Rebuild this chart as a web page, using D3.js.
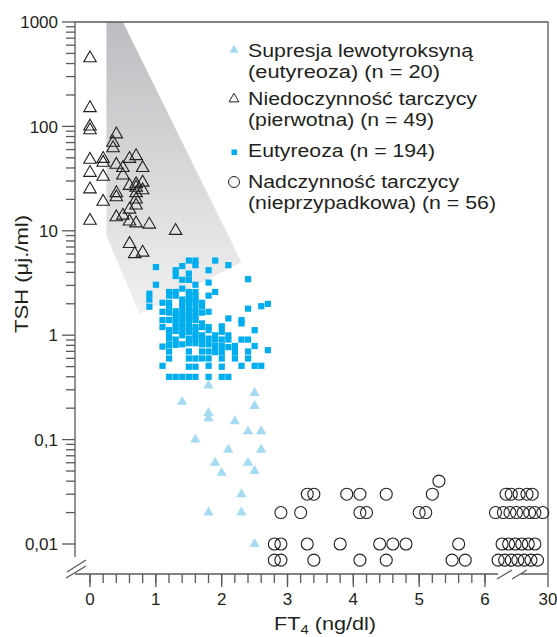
<!DOCTYPE html>
<html>
<head>
<meta charset="utf-8">
<script src="https://cdn.jsdelivr.net/npm/d3@7"></script>
<style>
  body { margin: 0; background: #fff; }
  text { font-family: "Liberation Sans", Arial, Helvetica, sans-serif; fill: #231f20; }
</style>
</head>
<body>
<svg id="chart" width="557" height="637"></svg>
<script>
// FT4 (ng/dl), TSH (uj./ml)
var suppressed = [
  [1.8,0.33],[2.5,0.28],[1.4,0.23],[2.5,0.21],[1.8,0.18],[1.8,0.16],[2.2,0.15],
  [2.4,0.12],[2.6,0.12],[1.6,0.10],[2.1,0.08],[2.6,0.08],[1.9,0.06],[2.4,0.06],
  [2.0,0.048],[2.5,0.05],[2.3,0.03],[1.8,0.02],[2.3,0.02],[2.5,0.01]
];
var hypo = [
  [0,450],[0,150],[0,100],[0,92],[0,48],[0,36],[0,25],[0,12.5],
  [0.2,49],[0.2,45],[0.2,33],[0.2,19],
  [0.4,84],[0.35,70],[0.35,62],[0.4,43],[0.4,23],[0.4,21],[0.4,13.5],
  [0.5,40],[0.5,34],[0.5,14],
  [0.6,49],[0.6,27],[0.6,16],[0.6,12.3],[0.6,7.5],
  [0.7,52],[0.7,28],[0.7,26],[0.7,23],[0.7,20],[0.7,17.5],[0.7,11.8],[0.68,6],
  [0.8,40],[0.8,29],[0.8,24.5],[0.8,6.2],
  [0.9,11.5],[1.3,10]
];
var euthyroid = [
  [1.5,5.2],[1.6,5.2],[1.9,5.2],[1.6,4.7],[2.1,4.7],[1.0,4.5],[1.4,4.6],[1.3,4.2],[1.8,4.2],
  [1.5,3.9],[1.3,3.7],[1.4,3.4],[1.5,3.4],[2.4,3.45],[1.8,3.2],[1.0,3.05],[1.6,3.05],[1.4,2.8],
  [1.2,2.6],[1.3,2.6],[1.5,2.6],[1.6,2.6],[1.9,2.6],[0.9,2.5],
  [1.2,2.4],[1.3,2.4],[1.5,2.4],[1.6,2.4],[1.8,2.4],
  [0.9,2.2],[1.4,2.2],[1.5,2.2],[1.6,2.2],
  [1.1,2.05],[1.2,2.05],[1.4,2.05],[1.5,2.05],[1.6,2.05],[1.7,2.05],[2.7,2.0],[2.6,1.9],
  [0.9,1.88],[1.2,1.88],[1.4,1.88],[1.5,1.88],[1.7,1.9],[1.6,1.8],[2.4,1.8],
  [1.1,1.68],[1.2,1.65],[1.3,1.7],[1.4,1.68],[1.5,1.68],[1.6,1.65],[1.7,1.65],[1.8,1.68],
  [1.3,1.55],[1.4,1.55],[1.5,1.5],[1.6,1.5],
  [1.3,1.45],[1.4,1.45],[1.5,1.45],[1.6,1.4],[2.1,1.45],[2.3,1.4],[1.1,1.4],[1.2,1.4],
  [1.3,1.3],[1.4,1.3],[1.5,1.3],[1.7,1.3],[2.3,1.3],[1.7,1.2],
  [1.1,1.2],[1.3,1.2],[1.4,1.2],[1.5,1.2],[1.6,1.2],[1.8,1.2],[2.0,1.22],
  [1.2,1.12],[1.3,1.1],[1.4,1.08],[1.5,1.08],[1.6,1.1],[1.8,1.12],[2.0,1.08],[2.5,1.12],
  [1.2,1.0],[1.4,1.0],[1.6,1.0],[1.7,1.0],[1.9,1.0],[2.1,1.0],
  [1.2,0.93],[1.3,0.91],[1.5,0.93],[1.6,0.93],[1.7,0.93],[1.8,0.93],[1.9,0.91],[2.0,0.91],
  [2.1,0.91],[2.3,0.91],[2.4,0.91],
  [1.1,0.78],[1.2,0.81],[1.3,0.81],[1.4,0.82],[1.5,0.84],[1.6,0.84],[1.7,0.82],[1.8,0.82],
  [1.9,0.79],[2.0,0.79],[2.1,0.77],[2.2,0.79],[2.5,0.79],
  [1.2,0.7],[1.5,0.7],[1.7,0.7],[1.8,0.7],[1.9,0.69],[2.0,0.69],[2.2,0.69],[2.4,0.7],[2.7,0.72],
  [1.2,0.6],[1.5,0.6],[1.6,0.6],[1.7,0.6],[1.8,0.6],[2.0,0.6],[2.2,0.6],[2.4,0.6],
  [1.1,0.51],[1.5,0.5],[1.6,0.5],[1.8,0.51],[2.0,0.5],[2.3,0.51],[2.5,0.51],[2.6,0.51],
  [1.2,0.4],[1.3,0.4],[1.4,0.4],[1.5,0.4],[1.6,0.4],[1.8,0.4],[2.0,0.4],[2.1,0.4]
];
var hyper = [
  [3.3,0.03],[3.4,0.03],[3.9,0.03],[4.1,0.03],[4.5,0.03],[5.2,0.03],[5.3,0.04],
  [2.9,0.02],[3.2,0.02],[4.1,0.02],[4.2,0.02],[5.0,0.02],[5.1,0.02],
  [2.8,0.01],[2.9,0.01],[3.3,0.01],[3.8,0.01],[4.4,0.01],[4.6,0.01],[4.8,0.01],[5.6,0.01],
  [2.8,0.007],[2.9,0.007],[3.4,0.007],[4.1,0.007],[4.5,0.007],[5.5,0.007],[5.7,0.007],
  [14,0.03],[16,0.03],[19,0.03],[22,0.03],[24,0.03],
  [10,0.02],[13,0.02],[15.5,0.02],[18,0.02],[20.5,0.02],[23,0.02],[25,0.02],[28,0.02],
  [12.5,0.01],[15,0.01],[17.5,0.01],[20,0.01],[22.5,0.01],[25,0.01],
  [11,0.007],[13.5,0.007],[16,0.007],[18.5,0.007],[21,0.007],[23.5,0.007],[26,0.007]
];
// shaded band behind the hypothyroid group
var shadeBand = [[0.25,1000],[0.5,1000],[2.3,5],[0.75,1.6],[0.25,9]];

var yMajor = [1000,100,10,1,0.1,0.01]
  , yLabels = ["1000","100","10","1","0,1","0,01"]
  , xMajor = [0,1,2,3,4,5,6,30]
  , xLabels = ["0","1","2","3","4","5","6","30"];

var legendLabels = [
  ["Supresja lewotyroksyną","(eutyreoza) (n = 20)"],
  ["Niedoczynność tarczycy","(pierwotna) (n = 49)"],
  ["Eutyreoza (n = 194)"],
  ["Nadczynność tarczycy","(nieprzypadkowa) (n = 56)"]
];

var plotL = 75, plotR = 548, plotT = 22, axisY = 574
  , lightBlue = "#a5daf3", blue = "#00aeef", ink = "#231f20", axisColor = "#58595b";

var x = d3.scaleLinear().domain([0,6,30]).range([90,485,548]);
var y = d3.scaleLog().domain([0.01,1000]).range([544,plotT]);

var svg = d3.select("#chart");

var grad = svg.append("defs").append("linearGradient")
  .attr("id","band-grad")
  .attr("gradientUnits","userSpaceOnUse")
  .attr("x1",0).attr("y1",plotT).attr("x2",0).attr("y2",y(1.6));
grad.append("stop").attr("offset","0%").attr("stop-color","#bcbdc0");
grad.append("stop").attr("offset","100%").attr("stop-color","#f1f1f2");

svg.append("path")
  .datum(shadeBand)
  .attr("d", d3.line().x(function(d){ return x(d[0]); }).y(function(d){ return y(d[1]); }).curve(d3.curveLinearClosed))
  .attr("fill","url(#band-grad)");

// frame and axes
var frame = svg.append("g").attr("stroke",axisColor).attr("stroke-width",1.3).attr("fill","none");
frame.append("path").attr("d","M"+plotL+","+(axisY-17)+"V"+plotT+"H"+plotR+"V"+axisY);
frame.append("path").attr("d","M"+plotL+","+axisY+"H498M521,"+axisY+"H"+plotR);
frame.append("path").attr("d","M66,578L86,566M67,572L86,560");
frame.append("path").attr("d","M497,579L512,570M512,579L527,570");

// y ticks
var yMinor = [];
for (var e = -2; e < 3; e++) for (var k = 2; k < 10; k++) yMinor.push(k*Math.pow(10,e));
var yAxis = svg.append("g");
yAxis.selectAll(".ymin").data(yMinor).enter().append("line")
  .attr("x1",plotL-9).attr("x2",plotL)
  .attr("y1",function(d){ return y(d); }).attr("y2",function(d){ return y(d); })
  .attr("stroke",axisColor).attr("stroke-width",1.3);
yAxis.selectAll(".ymaj").data(yMajor).enter().append("line")
  .attr("x1",plotL-13).attr("x2",plotL)
  .attr("y1",function(d){ return y(d); }).attr("y2",function(d){ return y(d); })
  .attr("stroke",axisColor).attr("stroke-width",1.3);
yAxis.selectAll("text").data(yMajor).enter().append("text")
  .attr("x",58).attr("y",function(d){ return y(d); }).attr("dy","0.36em")
  .attr("text-anchor","end").style("font-size","17px")
  .text(function(d,i){ return yLabels[i]; });

// x ticks
var xMinor = d3.range(0,6.01,0.2);
var xAxis = svg.append("g");
xAxis.selectAll(".xmin").data(xMinor).enter().append("line")
  .attr("x1",function(d){ return x(d); }).attr("x2",function(d){ return x(d); })
  .attr("y1",axisY).attr("y2",axisY+9)
  .attr("stroke",axisColor).attr("stroke-width",1.3);
xAxis.selectAll(".xmaj").data(xMajor).enter().append("line")
  .attr("x1",function(d){ return x(d); }).attr("x2",function(d){ return x(d); })
  .attr("y1",axisY).attr("y2",axisY+13)
  .attr("stroke",axisColor).attr("stroke-width",1.3);
xAxis.selectAll("text").data(xMajor).enter().append("text")
  .attr("x",function(d){ return x(d); }).attr("y",605)
  .attr("text-anchor","middle").style("font-size","17px")
  .text(function(d,i){ return xLabels[i]; });

// axis titles (source type is wider than Arial, so stretch a bit)
svg.append("text")
  .attr("transform","translate(28,274) rotate(-90)")
  .attr("text-anchor","middle").style("font-size","19px")
  .attr("textLength",118).attr("lengthAdjust","spacingAndGlyphs")
  .text("TSH (μj./ml)");
var xt = svg.append("text")
  .attr("transform","translate(325,630) scale(1.14,1)")
  .attr("text-anchor","middle").style("font-size","19px");
xt.append("tspan").text("FT");
xt.append("tspan").attr("dy",4).style("font-size","13px").text("4");
xt.append("tspan").attr("dy",-4).text(" (ng/dl)");

// points
var tri = d3.symbol().type(d3.symbolTriangle);
svg.append("g").selectAll("path").data(suppressed).enter().append("path")
  .attr("transform",function(d){ return "translate("+x(d[0])+","+y(d[1])+")"; })
  .attr("d",tri.size(46)())
  .attr("fill",lightBlue);

svg.append("g").selectAll("rect").data(euthyroid).enter().append("rect")
  .attr("x",function(d){ return x(d[0])-3; })
  .attr("y",function(d){ return y(d[1])-3; })
  .attr("width",6.2).attr("height",6.2)
  .attr("fill",blue);

svg.append("g").selectAll("path").data(hypo).enter().append("path")
  .attr("transform",function(d){ return "translate("+x(d[0])+","+y(d[1])+")"; })
  .attr("d",tri.size(68)())
  .attr("fill","none").attr("stroke",ink).attr("stroke-width",1.1);

svg.append("g").selectAll("circle").data(hyper).enter().append("circle")
  .attr("cx",function(d){ return x(d[0]); })
  .attr("cy",function(d){ return y(d[1]); })
  .attr("r",6)
  .attr("fill","none").attr("stroke",ink).attr("stroke-width",1.1);

// legend
var legendY = [57,105,157,188]
  , legendW = [[225,192],[229,186],[187],[211,248]];
var legend = svg.append("g");
legendLabels.forEach(function(lines,i){
  var g = legend.append("g").attr("transform","translate(0,"+legendY[i]+")");
  lines.forEach(function(t,j){
    g.append("text").attr("x",248).attr("y",j*20.5).style("font-size","17.5px")
      .attr("textLength",legendW[i][j]).attr("lengthAdjust","spacingAndGlyphs")
      .text(t);
  });
});
legend.append("path").attr("transform","translate(234,50)").attr("d",tri.size(36)()).attr("fill",lightBlue);
legend.append("path").attr("transform","translate(234,99)").attr("d",tri.size(42)())
  .attr("fill","none").attr("stroke",ink).attr("stroke-width",1);
legend.append("rect").attr("x",231.5).attr("y",149.5).attr("width",5.5).attr("height",5.5).attr("fill",blue);
legend.append("circle").attr("cx",234).attr("cy",182).attr("r",5.5)
  .attr("fill","none").attr("stroke",ink).attr("stroke-width",1);
</script>
</body>
</html>
